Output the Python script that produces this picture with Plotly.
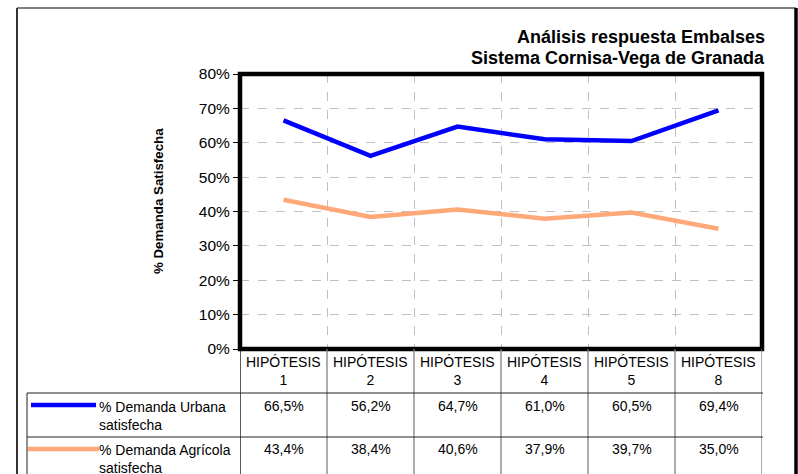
import plotly.graph_objects as go

categories = ["HIPÓTESIS 1", "HIPÓTESIS 2", "HIPÓTESIS 3", "HIPÓTESIS 4", "HIPÓTESIS 5", "HIPÓTESIS 8"]
urbana = [66.5, 56.2, 64.7, 61.0, 60.5, 69.4]
agricola = [43.4, 38.4, 40.6, 37.9, 39.7, 35.0]
series_names = ["% Demanda Urbana<br>satisfecha", "% Demanda Agrícola<br>satisfecha"]
y_ticks = [0, 10, 20, 30, 40, 50, 60, 70, 80]
title_lines = ["Análisis respuesta Embalses", "Sistema Cornisa-Vega de Granada"]
y_title = "% Demanda Satisfecha"

W, H = 798, 474
L, R, T, B = 240, 36, 74, 125
PW, PH = W - L - R, H - T - B

def px(X):
    return (X - L) / PW

def py(Y):
    return (H - B - Y) / PH

FONT = "Liberation Sans, Arial, sans-serif"
BLUE = "#0000FF"
ORANGE = "#FFA878"

xs = list(range(len(categories)))
fig = go.Figure()
fig.add_trace(go.Scatter(x=xs, y=urbana, mode="lines", line=dict(color=BLUE, width=4.5), showlegend=False, hoverinfo="skip"))
fig.add_trace(go.Scatter(x=xs, y=agricola, mode="lines", line=dict(color=ORANGE, width=4.5), showlegend=False, hoverinfo="skip"))

fig.update_layout(
    width=W, height=H,
    margin=dict(l=L, r=R, t=T, b=B, pad=0),
    paper_bgcolor="white", plot_bgcolor="white",
    font=dict(family=FONT, size=14, color="black"),
    xaxis=dict(range=[-0.5, len(categories) - 0.5], tickvals=[i + 0.5 for i in range(len(categories) - 1)],
               showticklabels=False, ticks="", showgrid=True, gridcolor="#C0C0C0", griddash="dash",
               gridwidth=1, zeroline=False, showline=False, fixedrange=True),
    yaxis=dict(range=[0, 80], tickvals=y_ticks, ticktext=[f"{v}%" for v in y_ticks],
               ticks="outside", ticklen=6, tickcolor="black", tickwidth=1,
               showgrid=True, gridcolor="#C0C0C0", griddash="dash", gridwidth=1,
               zeroline=False, showline=False, tickfont=dict(size=15.5, family=FONT)),
)

shapes = []
# plot frame
shapes.append(dict(type="rect", xref="paper", yref="paper", x0=0, x1=1, y0=0, y1=1,
                   line=dict(color="black", width=4.5)))
# outer chart frame
shapes.append(dict(type="line", xref="paper", yref="paper", x0=px(17), x1=px(17), y0=py(8), y1=py(480),
                   line=dict(color="#333333", width=2)))
shapes.append(dict(type="line", xref="paper", yref="paper", x0=px(17), x1=px(796), y0=py(8), y1=py(8),
                   line=dict(color="#555555", width=1.5)))
shapes.append(dict(type="line", xref="paper", yref="paper", x0=px(796), x1=px(796), y0=py(8), y1=py(480),
                   line=dict(color="black", width=3.5)))
# table lines
col_edges = [i - 0.5 for i in range(len(categories) + 1)]
for j, xe in enumerate(col_edges):
    shapes.append(dict(type="line", xref="x", yref="paper", x0=xe, x1=xe, y0=py(349), y1=py(480),
                       line=dict(color="black" if j == 0 else "#808080", width=1.3)))
for Yl in (393, 437):
    shapes.append(dict(type="line", xref="paper", yref="paper", x0=px(27), x1=px(763), y0=py(Yl), y1=py(Yl),
                       line=dict(color="#222222", width=1)))
shapes.append(dict(type="line", xref="paper", yref="paper", x0=px(27), x1=px(27), y0=py(393), y1=py(480),
                   line=dict(color="#222222", width=1)))
# legend swatches
shapes.append(dict(type="line", xref="paper", yref="paper", x0=px(31), x1=px(96), y0=py(405), y1=py(405),
                   line=dict(color=BLUE, width=4.5)))
shapes.append(dict(type="line", xref="paper", yref="paper", x0=px(28), x1=px(99), y0=py(449), y1=py(449),
                   line=dict(color=ORANGE, width=4.5)))
fig.update_layout(shapes=shapes)

ann = []
for line, Yc in zip(title_lines, (37.5, 58.5)):
    ann.append(dict(xref="paper", yref="paper", x=px(767), y=py(Yc), xanchor="right", yanchor="middle",
                    text="<b>" + line + "</b>", showarrow=False, align="right",
                    font=dict(size=18, family=FONT)))
ann.append(dict(xref="paper", yref="paper", x=px(158), y=py(201), xanchor="center", yanchor="middle",
                text="<b>" + y_title + "</b>", textangle=-90, showarrow=False, font=dict(size=13.3, family=FONT)))
for i, c in enumerate(categories):
    ann.append(dict(xref="x", yref="paper", x=i, y=py(352), xanchor="center", yanchor="top",
                    text=c.replace(" ", "<br>"), showarrow=False, font=dict(size=14, family=FONT)))
    ann.append(dict(xref="x", yref="paper", x=i, y=py(396), xanchor="center", yanchor="top",
                    text=f"{urbana[i]:.1f}".replace(".", ",") + "%", showarrow=False, font=dict(size=14, family=FONT)))
    ann.append(dict(xref="x", yref="paper", x=i, y=py(439), xanchor="center", yanchor="top",
                    text=f"{agricola[i]:.1f}".replace(".", ",") + "%", showarrow=False, font=dict(size=14, family=FONT)))
for k, (name, Yt) in enumerate(zip(series_names, (397, 440))):
    ann.append(dict(xref="paper", yref="paper", x=px(97), y=py(Yt), xanchor="left", yanchor="top",
                    text=name, showarrow=False, align="left", font=dict(size=14, family=FONT)))
fig.update_layout(annotations=ann)

fig.write_html("out.html", config={"displayModeBar": False},
               post_script="document.body.style.margin='0';document.body.style.padding='0';")
